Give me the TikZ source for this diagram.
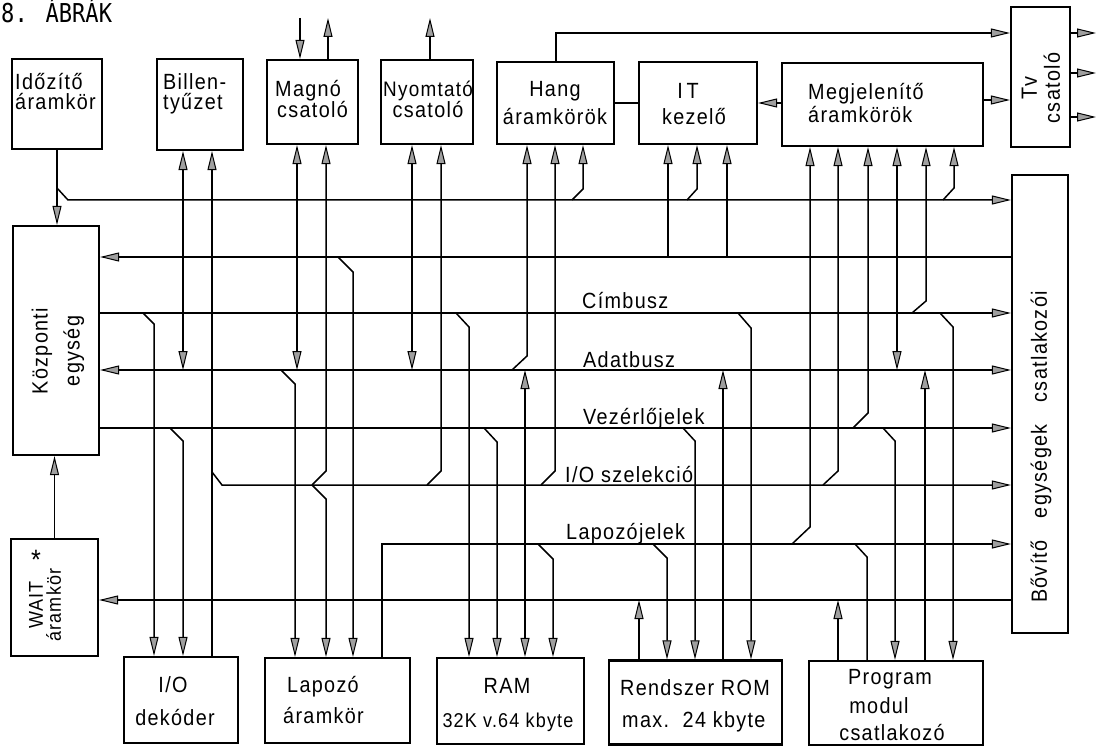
\documentclass[tikz,border=0pt]{standalone}
\usepackage{fontspec}
\usetikzlibrary{arrows.meta}
\newfontfamily\lbl[FakeStretch=0.9,LetterSpace=6]{Liberation Sans}
\newfontfamily\ttlfont[FakeStretch=0.85]{DejaVu Sans Mono}
\begin{document}
\begin{tikzpicture}[x=1pt,y=-1pt,
  ln/.style={line width=1.5pt},
  box/.style={draw,line width=2.2pt,inner sep=0pt},
  txt/.style={font=\lbl\fontsize{22}{25}\selectfont,inner sep=0pt},
  small/.style={font=\lbl\fontsize{20}{22}\selectfont,inner sep=0pt},
  >={Triangle[length=19pt,width=9pt,fill=gray!75,line width=1pt]}]
\useasboundingbox (0,0) rectangle (1098,746);
% title
\node[anchor=base west,inner sep=0pt,font=\ttlfont\fontsize{26}{28}\selectfont] (title) at (1,23) {8. ÁBRÁK};
% bus levels
\coordinate (yL2) at (0,200);
\coordinate (yL3) at (0,257);
\coordinate (yC) at (0,313);
\coordinate (yA) at (0,370);
\coordinate (yV) at (0,428);
\coordinate (yIO) at (0,485);
\coordinate (yP) at (0,544);
\coordinate (yW) at (0,600);
% boxes
\node[box,minimum width=90pt,minimum height=90pt] (tim) at (57,104) {};
\node[box,minimum width=86pt,minimum height=91pt] (bil) at (200,104.5) {};
\node[box,minimum width=91pt,minimum height=84pt] (mag) at (312.5,102) {};
\node[box,minimum width=92pt,minimum height=84pt] (nyo) at (427,102) {};
\node[box,minimum width=117pt,minimum height=82pt] (hang) at (555.5,103) {};
\node[box,minimum width=118pt,minimum height=82pt] (it) at (698,103) {};
\node[box,minimum width=201pt,minimum height=83pt] (meg) at (882.5,104.5) {};
\node[box,minimum width=59pt,minimum height=140pt] (tv) at (1040.5,77) {};
\node[box,minimum width=56pt,minimum height=458pt] (bov) at (1040,404) {};
\node[box,minimum width=86pt,minimum height=229pt] (kp) at (56,340.5) {};
\node[box,minimum width=87pt,minimum height=117pt] (wait) at (54.5,597.5) {};
\node[box,minimum width=114pt,minimum height=86pt] (iod) at (181,700) {};
\node[box,minimum width=145pt,minimum height=85pt] (lap) at (337.5,700.5) {};
\node[box,minimum width=147pt,minimum height=86pt] (ram) at (510.5,701) {};
\node[box,minimum width=173pt,minimum height=84pt] (rom) at (695.5,702.5) {};
\node[box,minimum width=174pt,minimum height=84pt] (prg) at (896,703) {};
% box texts
\node[txt,anchor=base west] (timA) at (15,90) {Időzítő};
\node[txt,anchor=base west] (timB) at (15,110) {áramkör};
\node[txt,anchor=base west] (bilA) at (163,90) {Billen-};
\node[txt,anchor=base west] (bilB) at (163,110) {tyűzet};
\node[txt,anchor=base west] (magA) at (275,97) {Magnó};
\node[txt,anchor=base west] (magB) at (277,118) {csatoló};
\node[txt,anchor=base,font=\lbl\fontsize{21}{24}\selectfont] (nyoA) at (428,97) {Nyomtató};
\node[txt,anchor=base] (nyoB) at (428,118) {csatoló};
\node[txt,anchor=base] (hangA) at (555,97) {Hang};
\node[txt,anchor=base] (hangB) at (555,125) {áramkörök};
\node[txt,anchor=base] (itA) at (688,99) {I\,T};
\node[txt,anchor=base] (itB) at (694,125) {kezelő};
\node[txt,anchor=base west] (megA) at (808,100) {Megjelenítő};
\node[txt,anchor=base west] (megB) at (808,123) {áramkörök};
\node[txt,rotate=90,align=center,font=\lbl\fontsize{22}{23}\selectfont] (tvt) at (1041,88) {Tv\\csatoló};
\node[txt,rotate=90] (bovt) at (1041,447) {Bővítő\quad egységek\quad csatlakozói};
\node[txt,rotate=90,align=center,font=\lbl\fontsize{22}{32}\selectfont] (kpt) at (58,351) {Központi\\egység};
\node[small,rotate=90,align=center,font=\lbl\fontsize{20}{18}\selectfont] (waitt) at (45,605) {WAIT\\áramkör};
\node[txt,font=\lbl\fontsize{28}{28}\selectfont] (ast) at (36,560) {*};
\node[txt,anchor=base] (iodA) at (173,692) {I/O};
\node[txt,anchor=base] (iodB) at (175,725) {dekóder};
\node[txt,anchor=base west] (lapA) at (287,692) {Lapozó};
\node[txt,anchor=base west] (lapB) at (283,723) {áramkör};
\node[txt,anchor=base] (ramA) at (507,693) {RAM};
\node[small,anchor=base] (ramB) at (508,727) {32K v.64 kbyte};
\node[txt,anchor=base west] (romA) at (620,695) {Rendszer ROM};
\node[txt,anchor=base west] (romB) at (622,727) {max.\ \ 24 kbyte};
\node[txt,anchor=base] (prgA) at (890,684) {Program};
\node[txt,anchor=base] (prgB) at (879,713) {modul};
\node[txt,anchor=base] (prgC) at (892,740) {csatlakozó};
% bus labels
\node[txt,anchor=base west] (lC) at (582,308) {Címbusz};
\node[txt,anchor=base west] (lA) at (583,367) {Adatbusz};
\node[txt,anchor=base west] (lV) at (583,424) {Vezérlőjelek};
\node[txt,anchor=base west] (lIO) at (565,482) {I/O szelekció};
\node[txt,anchor=base west] (lP) at (566,539) {Lapozójelek};
% free ends
\coordinate (magin) at (300,18);
\coordinate (magout) at (328,18);
\coordinate (nyoout) at (430,18);
\coordinate (tvo1) at (1096,33);
\coordinate (tvo2) at (1096,73);
\coordinate (tvo3) at (1096,117);
% timing circuit
\draw[ln,->] (tim.south) -- (tim.south |- kp.north);
\draw[ln,->] (57,188) -- (68,0 |- yL2) -- (yL2 -| bov.west);
% buses
\draw[ln,->] (yL3 -| bov.west) -- (yL3 -| kp.east);
\draw[ln,->] (yC -| kp.east) -- (yC -| bov.west);
\draw[ln,<->] (yA -| kp.east) -- (yA -| bov.west);
\draw[ln,->] (yV -| kp.east) -- (yV -| bov.west);
\draw[ln,->] (212,0 |- iod.north) -- (212,0 |- bil.south);
\draw[ln,->] (212,472) -- (222,0 |- yIO) -- (yIO -| bov.west);
\draw[ln,->] (382,0 |- lap.north) -- (382,0 |- yP) -- (yP -| bov.west);
\draw[ln,->] (yW -| bov.west) -- (yW -| wait.east);
\draw[ln,->] (wait.north) -- (wait.north |- kp.south);
% keyboard, I/O decoder
\draw[ln,<->] (183,0 |- yA) -- (183,0 |- bil.south);
\draw[ln,->] (143,0 |- yC) -- (154,324) -- (154,0 |- iod.north);
\draw[ln,->] (170,0 |- yV) -- (183,441) -- (183,0 |- iod.north);
% tape interface, paging circuit
\draw[ln,<->] (297,0 |- yA) -- (297,0 |- mag.south);
\draw[ln,->] (281,0 |- yA) -- (295,384) -- (295,0 |- lap.north);
\draw[ln,->] (312,0 |- yIO) -- (326,471) -- (326,0 |- mag.south);
\draw[ln,->] (312,0 |- yIO) -- (326,499) -- (326,0 |- lap.north);
\draw[ln,->] (338,0 |- yL3) -- (353,272) -- (353,0 |- lap.north);
\draw[ln,->] (magin) -- (300,0 |- mag.north);
\draw[ln,->] (328,0 |- mag.north) -- (magout);
% printer
\draw[ln,<->] (412,0 |- yA) -- (412,0 |- nyo.south);
\draw[ln,->] (427,0 |- yIO) -- (441,471) -- (441,0 |- nyo.south);
\draw[ln,->] (430,0 |- nyo.north) -- (nyoout);
% RAM
\draw[ln,->] (456,0 |- yC) -- (469,327) -- (469,0 |- ram.north);
\draw[ln,->] (484,0 |- yV) -- (497,442) -- (497,0 |- ram.north);
\draw[ln,<->] (525,0 |- yA) -- (525,0 |- ram.north);
\draw[ln,->] (538,0 |- yP) -- (553,559) -- (553,0 |- ram.north);
% sound
\draw[ln,->] (512,0 |- yA) -- (527,356) -- (527,0 |- hang.south);
\draw[ln,->] (541,0 |- yIO) -- (555,471) -- (555,0 |- hang.south);
\draw[ln,->] (572,0 |- yL2) -- (583,189) -- (583,0 |- hang.south);
\draw[ln,->] (556,0 |- hang.north) -- (556,33) -- (556,33 -| tv.west);
\draw[ln] (hang.east |- 0,103) -- (it.west |- 0,103);
% IT
\draw[ln,->] (meg.west |- 0,103) -- (it.east |- 0,103);
\draw[ln,->] (668,0 |- yL3) -- (668,0 |- it.south);
\draw[ln,->] (727,0 |- yL3) -- (727,0 |- it.south);
\draw[ln,->] (687,0 |- yL2) -- (697,189) -- (697,0 |- it.south);
% TV
\draw[ln,->] (meg.east |- 0,100) -- (tv.west |- 0,100);
\draw[ln,->] (tv.east |- tvo1) -- (tvo1);
\draw[ln,->] (tv.east |- tvo2) -- (tvo2);
\draw[ln,->] (tv.east |- tvo3) -- (tvo3);
% ROM
\draw[ln,->] (738,0 |- yC) -- (751,328) -- (751,0 |- rom.north);
\draw[ln,->] (723,0 |- rom.north) -- (723,0 |- yA);
\draw[ln,->] (683,0 |- yV) -- (695,441) -- (695,0 |- rom.north);
\draw[ln,->] (653,0 |- yP) -- (667,558) -- (667,0 |- rom.north);
\draw[ln,->] (639,0 |- rom.north) -- (639,0 |- yW);
% program module
\draw[ln,->] (838,0 |- prg.north) -- (838,0 |- yW);
\draw[ln] (855,0 |- yP) -- (867,557) -- (867,0 |- prg.north);
\draw[ln,->] (883,0 |- yV) -- (895,441) -- (895,0 |- prg.north);
\draw[ln,->] (925,0 |- prg.north) -- (925,0 |- yA);
\draw[ln,->] (940,0 |- yC) -- (953,327) -- (953,0 |- prg.north);
% display
\draw[ln,->] (792,0 |- yP) -- (810,527) -- (810,0 |- meg.south);
\draw[ln,->] (823,0 |- yIO) -- (838,471) -- (838,0 |- meg.south);
\draw[ln,->] (853,0 |- yV) -- (868,413) -- (868,0 |- meg.south);
\draw[ln,<->] (897,0 |- yA) -- (897,0 |- meg.south);
\draw[ln,->] (912,0 |- yC) -- (926,301) -- (926,0 |- meg.south);
\draw[ln,->] (943,0 |- yL2) -- (954,188) -- (954,0 |- meg.south);
\end{tikzpicture}
\end{document}
